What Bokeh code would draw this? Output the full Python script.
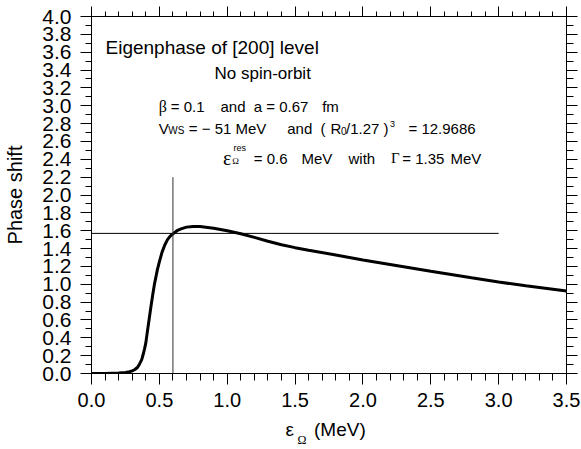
from bokeh.plotting import figure
from bokeh.models import (Range1d, LinearAxis, FixedTicker, PrintfTickFormatter, Label)
from bokeh.embed import file_html
from bokeh.resources import INLINE

# ---- data ----
energy = [0.0, 0.05, 0.10, 0.15, 0.20, 0.25, 0.28, 0.30, 0.32, 0.34, 0.355, 0.37,
          0.38, 0.39, 0.40, 0.41, 0.425, 0.44, 0.45, 0.465, 0.485, 0.50, 0.52,
          0.54, 0.56, 0.58, 0.60, 0.63, 0.66, 0.70, 0.75, 0.80, 0.90, 1.00, 1.10,
          1.20, 1.30, 1.40, 1.50, 1.60, 1.80, 2.00, 2.20, 2.50, 2.80, 3.00, 3.20, 3.50]
phase = [0.0, 0.0, 0.0, 0.003, 0.006, 0.012, 0.02, 0.03, 0.045, 0.07, 0.11, 0.156,
         0.21, 0.27, 0.34, 0.45, 0.61, 0.77, 0.87, 1.01, 1.16, 1.25, 1.36,
         1.44, 1.50, 1.54, 1.565, 1.60, 1.62, 1.64, 1.648, 1.646, 1.628, 1.60, 1.565,
         1.525, 1.482, 1.443, 1.41, 1.382, 1.328, 1.272, 1.222, 1.145, 1.072, 1.025, 0.982, 0.925]

hline_x = [0.0, 3.0]
hline_y = [1.57, 1.57]
vline_x = [0.6, 0.6]
vline_y = [0.0, 2.2]

x_major = [0.0, 0.5, 1.0, 1.5, 2.0, 2.5, 3.0, 3.5]
x_minor = [round(0.1 * i, 1) for i in range(36)]
y_major = [0.0, 0.2, 0.4, 0.6, 0.8, 1.0, 1.2, 1.4, 1.6, 1.8, 2.0,
           2.2, 2.4, 2.6, 2.8, 3.0, 3.2, 3.4, 3.6, 3.8, 4.0]
y_minor = [round(0.1 * i, 1) for i in range(41)]

# x-axis title pieces: "ε", subscript "Ω", "(MeV)"
title_main = {1.46: "\u03b5", 1.83: "(MeV)"}
title_sub = {1.55: "\u03a9"}

SANS = "Liberation Sans"
SERIF = "Liberation Serif"

p = figure(width=581, height=449, output_backend="svg", toolbar_location=None,
           x_range=Range1d(0, 3.5), y_range=Range1d(0, 4.0),
           min_border_left=91, min_border_right=15, min_border_top=16, min_border_bottom=75)
p.background_fill_color = "white"
p.border_fill_color = "white"
p.outline_line_color = "black"
p.outline_line_width = 1
p.xgrid.visible = False
p.ygrid.visible = False

xt = FixedTicker(ticks=x_major, minor_ticks=x_minor)
yt = FixedTicker(ticks=y_major, minor_ticks=y_minor)
fmt = PrintfTickFormatter(format="%.1f")

def style(ax, major_out, minor_out, size="20px", standoff=8, alpha=1.0):
    ax.axis_line_color = "black"
    ax.major_tick_line_color = "black"
    ax.minor_tick_line_color = "black"
    ax.major_tick_line_width = 1
    ax.minor_tick_line_width = 1
    ax.major_tick_in = 0
    ax.minor_tick_in = 0
    ax.major_tick_out = major_out
    ax.minor_tick_out = minor_out
    ax.major_label_text_font = SANS
    ax.major_label_text_font_size = size
    ax.major_label_text_color = "black"
    ax.major_label_text_alpha = alpha
    ax.major_label_standoff = standoff

xa = p.xaxis[0]
xa.ticker = xt
xa.formatter = fmt
style(xa, 11, 7, size="20px", standoff=8)

ya = p.yaxis[0]
ya.ticker = yt
ya.formatter = fmt
style(ya, 11, 6, size="21px", standoff=9)
ya.axis_label = "Phase shift"
ya.axis_label_text_font = SANS
ya.axis_label_text_font_size = "20px"
ya.axis_label_text_font_style = "normal"
ya.axis_label_text_color = "black"
ya.axis_label_standoff = 13

# mirrored tick axes on the top and right (ticks only, labels hidden)
top = LinearAxis(ticker=FixedTicker(ticks=x_major, minor_ticks=x_minor),
                 formatter=PrintfTickFormatter(format="%.1f"))
style(top, 10, 5, size="1px", standoff=0, alpha=0.0)
p.add_layout(top, "above")
right = LinearAxis(ticker=FixedTicker(ticks=y_major, minor_ticks=y_minor),
                   formatter=PrintfTickFormatter(format="%.1f"))
style(right, 11, 7, size="1px", standoff=0, alpha=0.0)
p.add_layout(right, "right")

def text_axis(labels, font, size, standoff):
    ax = LinearAxis(ticker=FixedTicker(ticks=list(labels.keys())),
                    major_label_overrides=labels)
    ax.axis_line_color = None
    ax.major_tick_line_color = None
    ax.minor_tick_line_color = None
    ax.major_tick_in = 0
    ax.major_tick_out = 0
    ax.minor_tick_in = 0
    ax.minor_tick_out = 0
    ax.major_label_text_font = font
    ax.major_label_text_font_size = size
    ax.major_label_text_color = "black"
    ax.major_label_standoff = standoff
    p.add_layout(ax, "below")

text_axis(title_main, SANS, "19px", 9)
text_axis(title_sub, SERIF, "12px", -10)

p.line(energy, phase, line_width=3, color="black")
p.line(hline_x, hline_y, line_width=1, color="black")
p.line(vline_x, vline_y, line_width=1, color="#333333")

# annotation placement helper (pixel position in the picture -> data units)
FX0, FX1, FY0, FY1 = 91.0, 566.0, 374.0, 16.0

def put(txt, px, py, size, font=SANS):
    x = (px - FX0) / (FX1 - FX0) * 3.5
    y = (FY0 - py) / (FY0 - FY1) * 4.0
    p.add_layout(Label(x=x, y=y, text=txt, text_font=font,
                       text_font_size=f"{size}px", text_baseline="alphabetic",
                       text_color="black"))

put("Eigenphase of [200] level", 105, 46.7, 19)
put("No spin-orbit", 214, 72.7, 17)

b3 = 106.7
put("\u03b2", 158.3, b3, 16, SERIF)
put("= 0.1", 170.3, b3, 15)
put("and", 220, b3, 15)
put("a = 0.67", 253.3, b3, 15)
put("fm", 321.7, b3, 15)

b4 = 128.3
put("V", 158.3, b4, 15)
put("WS", 167.8, b4 + 2.4, 10)
put("= \u2212 51 MeV", 188.3, b4, 15)
put("and", 286.7, b4, 15)
put("(", 320, b4, 15)
put("R", 330, b4, 15)
put("0", 340.5, b4 + 2.4, 10)
put("/1.27 )", 345.5, b4, 15)
put("3", 389.5, b4 - 4.5, 9)
put("= 12.9686", 408, b4, 15)

b5 = 158.3
put("\u03b5", 222.5, b5, 20, SERIF)
put("\u03a9", 231.7, b5 + 2.7, 9, SERIF)
put("res", 233, b5 - 10, 9)
put("= 0.6", 253.3, b5, 15)
put("MeV", 301, b5, 15)
put("with", 348, b5, 15)
put("\u0393", 390.5, b5, 15, SERIF)
put("= 1.35", 401.7, b5, 15)
put("MeV", 450, b5, 15)

open("out.html", "w").write(file_html(p, INLINE))
